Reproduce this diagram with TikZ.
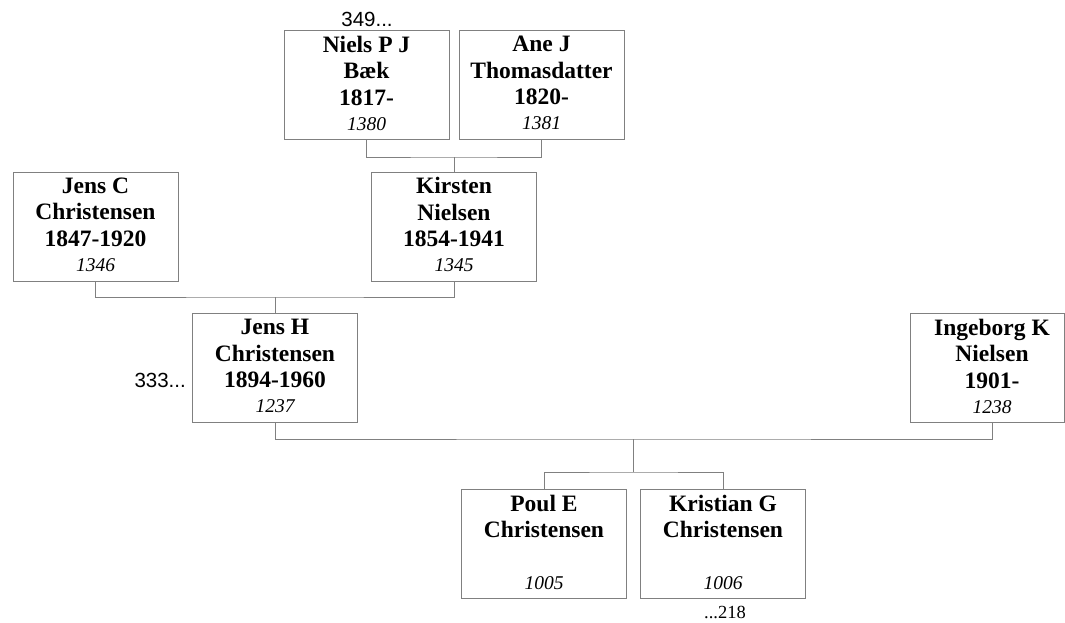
\documentclass[tikz,border=0pt]{standalone}
\usepackage{fontspec}
\setmainfont{Liberation Serif}
\newfontfamily\labelsans{Liberation Sans}
\definecolor{boxgray}{RGB}{128,128,128}
\newcommand{\persid}[1]{{\fontsize{19.5}{25}\selectfont\mdseries\itshape #1}}
\begin{document}
\begin{tikzpicture}[x=1pt,y=-1pt,
  person/.style={draw=boxgray, line width=1pt, minimum width=165pt, minimum height=109pt,
    inner sep=0pt, text depth=4pt, align=center, font=\fontsize{23.5}{26.5}\selectfont\bfseries},
  boxonly/.style={draw=boxgray, line width=1pt, minimum height=109pt, inner sep=0pt},
  persontext/.style={inner sep=0pt, text depth=4pt, align=center, font=\fontsize{23.5}{26.5}\selectfont\bfseries},
  conn/.style={draw=boxgray, line width=1pt},
  refsans/.style={font=\fontsize{20.5}{23}\selectfont\labelsans, inner sep=0pt},
  refserif/.style={font=\fontsize{18.5}{20}\selectfont, inner sep=0pt}]
\useasboundingbox (0,0) rectangle (1065,623);

\node[person] (niels) at (366.5,85) {Niels P J\\Bæk\\1817-\\[-1.5pt]\persid{1380}};
\node[person] (ane) at (541.5,85) {Ane J\\Thomasdatter\\1820-\\[-1.5pt]\persid{1381}};
\node[person] (jensc) at (95.5,226.5) {Jens C\\Christensen\\1847-1920\\[-1.5pt]\persid{1346}};
\node[person] (kirsten) at (454,226.5) {Kirsten\\Nielsen\\1854-1941\\[-1.5pt]\persid{1345}};
\node[person] (jensh) at (275,368) {Jens H\\Christensen\\1894-1960\\[-1.5pt]\persid{1237}};
\node[boxonly, minimum width=154pt] (ingeborg) at (987,368) {};
\node[persontext] (ingeborgtext) at (992,368) {Ingeborg K\\Nielsen\\1901-\\[-1.5pt]\persid{1238}};
\node[person] (poul) at (544,544) {Poul E\\Christensen\\\mbox{}\\[-1.5pt]\persid{1005}};
\node[person] (kristian) at (723,544) {Kristian G\\Christensen\\\mbox{}\\[-1.5pt]\persid{1006}};

\coordinate (m1) at (454,157);
\coordinate (m2) at (275,297);
\coordinate (m3) at (633.5,439);
\coordinate (s3) at (633.5,472);

\draw[conn] (niels.south) |- (m1) -| (ane.south);
\draw[conn] (m1) -- (kirsten.north);
\draw[conn] (jensc.south) |- (m2) -| (kirsten.south);
\draw[conn] (m2) -- (jensh.north);
\draw[conn] (jensh.south) |- (m3) -| ([xshift=5pt]ingeborg.south);
\draw[conn] (m3) -- (s3);
\draw[conn] (poul.north) |- (s3) -| (kristian.north);

\node[refsans, anchor=base] (l349) at (367,27) {349...};
\node[refsans, anchor=base east] (l333) at (186,387) {333...};
\node[refserif, anchor=base] (l218) at (725,618) {...218};
\end{tikzpicture}
\end{document}
